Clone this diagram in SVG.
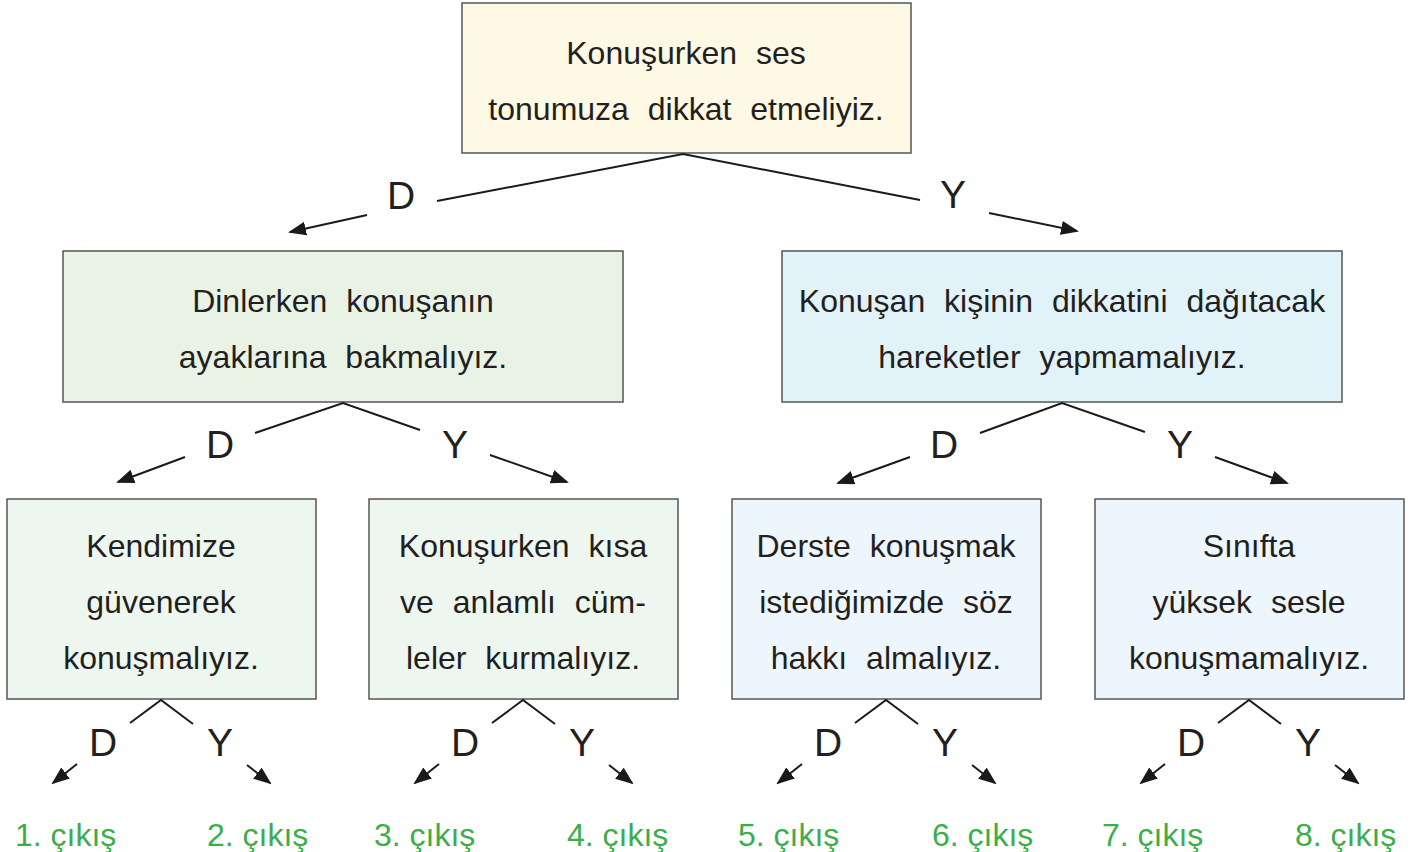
<svg xmlns="http://www.w3.org/2000/svg" width="1422" height="852" viewBox="0 0 1422 852">
<style>
.box{stroke:#555;stroke-width:1.5}
.t{font-family:"Liberation Sans",Arial,sans-serif;font-size:32px;fill:#231f20;text-anchor:middle;word-spacing:10px}
.dy{font-family:"Liberation Sans",Arial,sans-serif;font-size:39px;fill:#231f20;text-anchor:middle}
.out{font-family:"Liberation Sans",Arial,sans-serif;font-size:32px;fill:#3bae4a;word-spacing:0px}
.ln{stroke:#1a1a1a;stroke-width:2;fill:none}
.ar{stroke:#1a1a1a;stroke-width:2;fill:none;marker-end:url(#ah)}
</style>
<defs>
<marker id="ah" markerUnits="userSpaceOnUse" markerWidth="19" markerHeight="15" refX="16" refY="7" orient="auto">
<path d="M0,0 L18,7 L0,14 z" fill="#1a1a1a"/>
</marker>
</defs>
<rect width="1422" height="852" fill="#fff"/>

<g id="n0">
<rect class="box" x="462" y="3" width="449" height="150" fill="#fdf9e4"/>
<text class="t" x="686" y="64">Konuşurken ses</text>
<text class="t" x="686" y="120">tonumuza dikkat etmeliyiz.</text>
</g>
<g id="n1">
<rect class="box" x="63" y="251" width="560" height="151" fill="#e8f3e6"/>
<text class="t" x="343" y="312">Dinlerken konuşanın</text>
<text class="t" x="343" y="368">ayaklarına bakmalıyız.</text>
</g>
<g id="n2">
<rect class="box" x="782" y="251" width="560" height="151" fill="#e2f2f9"/>
<text class="t" x="1062" y="312">Konuşan kişinin dikkatini dağıtacak</text>
<text class="t" x="1062" y="368">hareketler yapmamalıyız.</text>
</g>
<g id="n3">
<rect class="box" x="7" y="499" width="309" height="200" fill="#eef7ef"/>
<text class="t" x="161" y="557">Kendimize</text>
<text class="t" x="161" y="613">güvenerek</text>
<text class="t" x="161" y="669">konuşmalıyız.</text>
</g>
<g id="n4">
<rect class="box" x="369" y="499" width="309" height="200" fill="#eef7ef"/>
<text class="t" x="523" y="557">Konuşurken kısa</text>
<text class="t" x="523" y="613">ve anlamlı cüm-</text>
<text class="t" x="523" y="669">leler kurmalıyız.</text>
</g>
<g id="n5">
<rect class="box" x="732" y="499" width="309" height="200" fill="#eef6fd"/>
<text class="t" x="886" y="557">Derste konuşmak</text>
<text class="t" x="886" y="613">istediğimizde söz</text>
<text class="t" x="886" y="669">hakkı almalıyız.</text>
</g>
<g id="n6">
<rect class="box" x="1095" y="499" width="309" height="200" fill="#eef6fd"/>
<text class="t" x="1249" y="557">Sınıfta</text>
<text class="t" x="1249" y="613">yüksek sesle</text>
<text class="t" x="1249" y="669">konuşmamalıyız.</text>
</g>

<g id="connectors">
<path class="ln" d="M437,201 L683,154 L920,200"/>
<path class="ar" d="M367,215 L290,232"/>
<path class="ar" d="M989,213 L1077,231"/>
<text class="dy" x="401" y="209">D</text>
<text class="dy" x="953" y="208">Y</text>
<path class="ln" d="M255,433 L343,403 L420,430"/>
<path class="ar" d="M185,457 L118,482"/>
<path class="ar" d="M490,455 L567,482"/>
<text class="dy" x="220" y="458">D</text>
<text class="dy" x="455" y="458">Y</text>
<path class="ln" d="M980,433 L1062,403 L1145,432"/>
<path class="ar" d="M910,457 L838,483"/>
<path class="ar" d="M1215,457 L1287,483"/>
<text class="dy" x="944" y="458">D</text>
<text class="dy" x="1180" y="458">Y</text>
<g>
<path class="ln" d="M130,723 L161,700 L193,724"/>
<path class="ar" d="M77,764 L53,783"/>
<path class="ar" d="M247,765 L270,783"/>
<text class="dy" x="103" y="756">D</text>
<text class="dy" x="220" y="756">Y</text>
</g>
<g transform="translate(362,0)">
<path class="ln" d="M130,723 L161,700 L193,724"/>
<path class="ar" d="M77,764 L53,783"/>
<path class="ar" d="M247,765 L270,783"/>
<text class="dy" x="103" y="756">D</text>
<text class="dy" x="220" y="756">Y</text>
</g>
<g transform="translate(725,0)">
<path class="ln" d="M130,723 L161,700 L193,724"/>
<path class="ar" d="M77,764 L53,783"/>
<path class="ar" d="M247,765 L270,783"/>
<text class="dy" x="103" y="756">D</text>
<text class="dy" x="220" y="756">Y</text>
</g>
<g transform="translate(1088,0)">
<path class="ln" d="M130,723 L161,700 L193,724"/>
<path class="ar" d="M77,764 L53,783"/>
<path class="ar" d="M247,765 L270,783"/>
<text class="dy" x="103" y="756">D</text>
<text class="dy" x="220" y="756">Y</text>
</g>
</g>

<g id="outputs">
<text class="out" x="15" y="846">1. çıkış</text>
<text class="out" x="207" y="846">2. çıkış</text>
<text class="out" x="374" y="846">3. çıkış</text>
<text class="out" x="567" y="846">4. çıkış</text>
<text class="out" x="738" y="846">5. çıkış</text>
<text class="out" x="932" y="846">6. çıkış</text>
<text class="out" x="1102" y="846">7. çıkış</text>
<text class="out" x="1295" y="846">8. çıkış</text>
</g>
</svg>
